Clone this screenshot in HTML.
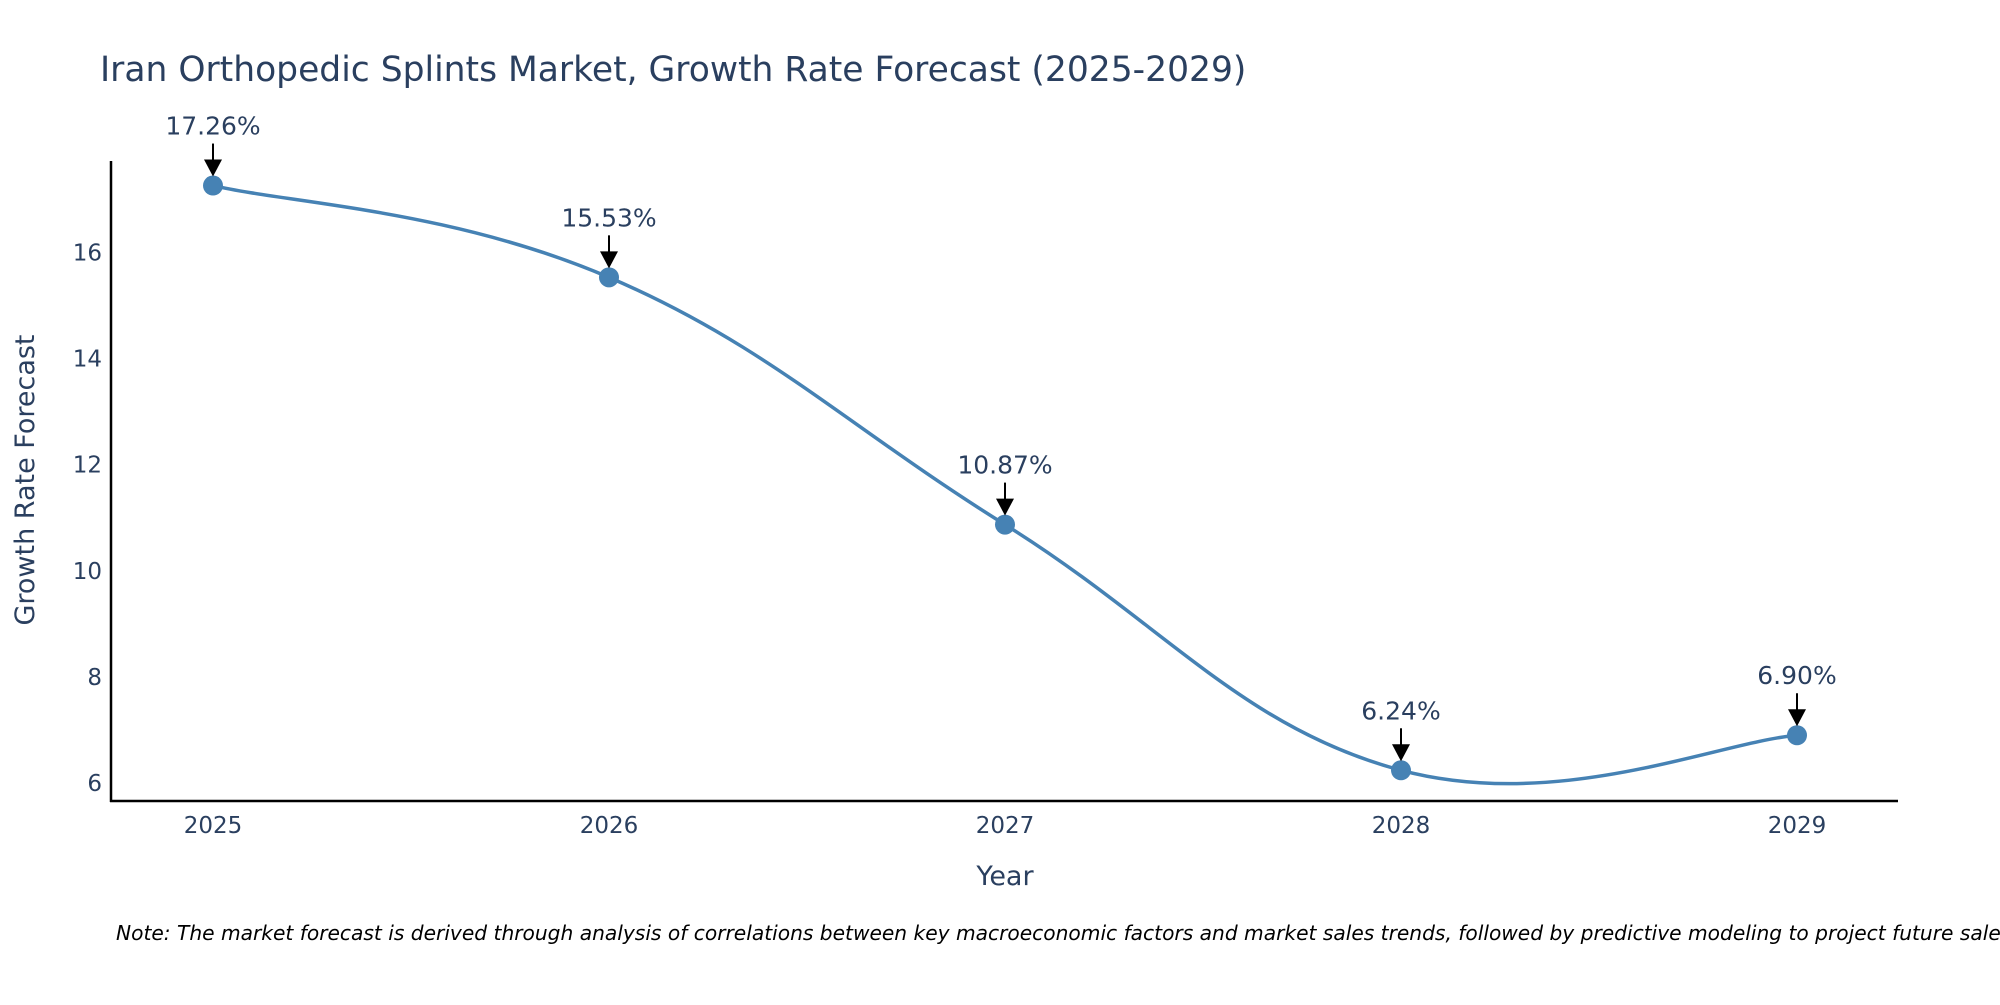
<!DOCTYPE html>
<html><head><meta charset="utf-8"><style>
body{margin:0;background:#fff;}
svg text{font-family:"DejaVu Sans","Liberation Sans",sans-serif;fill:#2a3f5f;}
</style></head><body>
<svg id="chart" width="2000" height="1000" viewBox="0 0 2000 1000" xmlns="http://www.w3.org/2000/svg">
<rect width="2000" height="1000" fill="#fff"/>
<text x="100" y="81" font-size="34.5">Iran Orthopedic Splints Market, Growth Rate Forecast (2025-2029)</text>
<g id="axes"></g>
<g id="marks"></g>
<text x="1005" y="885" font-size="27" text-anchor="middle">Year</text>
<text transform="translate(34,480) rotate(-90)" font-size="27" text-anchor="middle">Growth Rate Forecast</text>
<text x="116" y="940" font-size="20.2" font-style="italic" style="fill:#000">Note: The market forecast is derived through analysis of correlations between key macroeconomic factors and market sales trends, followed by predictive modeling to project future sales</text>
</svg>
<script>
const categories = ["2025","2026","2027","2028","2029"];
const values = [17.26, 15.53, 10.87, 6.24, 6.90];
const labels = ["17.26%","15.53%","10.87%","6.24%","6.90%"];
const yTicks = [6, 8, 10, 12, 14, 16];

const NS = "http://www.w3.org/2000/svg";
const x0 = 213, x1 = 1797;
function xScale(i){ return x0 + i*(x1-x0)/(categories.length-1); }
function yScale(v){ return 783 - (v-6)*53.06; }
function mk(tag, attrs, parent){
  const e = document.createElementNS(NS, tag);
  for (const k in attrs) e.setAttribute(k, attrs[k]);
  parent.appendChild(e); return e;
}
const axes = document.getElementById('axes');
const marks = document.getElementById('marks');
let yl = mk('line',{x1:111,y1:161,x2:111,y2:802,stroke:'#000','stroke-width':2.5},axes);


let xl = mk('line',{x1:110,y1:801,x2:1898,y2:801,stroke:'#000','stroke-width':2.5},axes);


yTicks.forEach(t=>{
  const e = mk('text',{x:102,y:yScale(t)+8,'font-size':23,'text-anchor':'end'},axes);
  e.textContent = t;
  
  
});
categories.forEach((c,i)=>{
  const e = mk('text',{x:xScale(i),y:833,'font-size':23,'text-anchor':'middle'},axes);
  e.textContent = c;
  
  
});
const pts = values.map((v,i)=>[xScale(i), yScale(v)]);
let d = `M${pts[0][0]},${pts[0][1]}`;
const k = 0.2;
for (let i=0;i<pts.length-1;i++){
  const p0 = pts[Math.max(i-1,0)], p1 = pts[i], p2 = pts[i+1], p3 = pts[Math.min(i+2,pts.length-1)];
  const c1 = [p1[0]+(p2[0]-p0[0])*k, p1[1]+(p2[1]-p0[1])*k];
  const c2 = [p2[0]-(p3[0]-p1[0])*k, p2[1]-(p3[1]-p1[1])*k];
  d += ` C${c1[0]},${c1[1]} ${c2[0]},${c2[1]} ${p2[0]},${p2[1]}`;
}
const line = mk('path',{d:d,fill:'none',stroke:'#4682b4','stroke-width':3.5},marks);


pts.forEach((p,i)=>{
  const c = mk('circle',{cx:p[0],cy:p[1],r:10,fill:'#4682b4'},marks);
  
  
  const a = mk('line',{x1:p[0],y1:p[1]-42,x2:p[0],y2:p[1]-22,stroke:'#000','stroke-width':2},marks);
  
  
  const h = mk('polygon',{points:`${p[0]-9},${p[1]-26} ${p[0]+9},${p[1]-26} ${p[0]},${p[1]-9}`,fill:'#000'},marks);
  
  
  const t = mk('text',{x:p[0],y:p[1]-51,'font-size':25,'text-anchor':'middle'},marks);
  t.textContent = labels[i];
  
  
});
</script>
</body></html>
